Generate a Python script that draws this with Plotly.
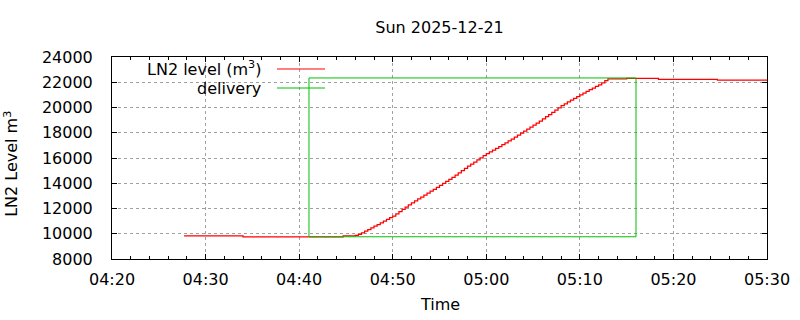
import plotly.graph_objects as go

DAY = "2025-12-21 "

# LN2 level (m^3) – staircase samples
level_time = [
    "04:27:42", "04:34:00", "04:44:42",
    "04:46:00", "04:46:20", "04:46:40", "04:47:00", "04:47:20", "04:47:40",
    "04:48:00", "04:48:20", "04:48:40", "04:49:00", "04:49:20", "04:49:40",
    "04:50:00", "04:50:20", "04:50:40", "04:51:00", "04:51:20", "04:51:40",
    "04:52:00", "04:52:20", "04:52:40", "04:53:00", "04:53:20", "04:53:40",
    "04:54:00", "04:54:20", "04:54:40", "04:55:00", "04:55:20", "04:55:40",
    "04:56:00", "04:56:20", "04:56:40", "04:57:00", "04:57:20", "04:57:40",
    "04:58:00", "04:58:20", "04:58:40", "04:59:00", "04:59:20", "04:59:40",
    "05:00:00", "05:00:20", "05:00:40", "05:01:00", "05:01:20", "05:01:40",
    "05:02:00", "05:02:20", "05:02:40", "05:03:00", "05:03:20", "05:03:40",
    "05:04:00", "05:04:20", "05:04:40", "05:05:00", "05:05:20", "05:05:40",
    "05:06:00", "05:06:20", "05:06:40", "05:07:00", "05:07:20", "05:07:40",
    "05:08:00", "05:08:20", "05:08:40", "05:09:00", "05:09:20", "05:09:40",
    "05:10:00", "05:10:20", "05:10:40", "05:11:00", "05:11:20", "05:11:40",
    "05:12:00", "05:12:20", "05:12:40", "05:13:00",
    "05:15:00", "05:18:24", "05:24:42", "05:30:00",
]
level_value = [
    9840, 9760, 9840,
    9880, 9950, 10060, 10200, 10330, 10470,
    10600, 10730, 10870, 11000, 11130, 11270,
    11400, 11580, 11750, 11930, 12100, 12280,
    12450, 12600, 12760, 12910, 13060, 13220,
    13370, 13520, 13680, 13830, 13990, 14140,
    14300, 14470, 14650, 14820, 15000, 15170,
    15350, 15520, 15680, 15850, 16020, 16180,
    16350, 16490, 16630, 16770, 16910, 17050,
    17190, 17350, 17500, 17660, 17810, 17970,
    18120, 18280, 18440, 18610, 18770, 18930,
    19090, 19270, 19440, 19620, 19800, 19970,
    20150, 20290, 20440, 20580, 20720, 20870,
    21010, 21140, 21270, 21410, 21540, 21670,
    21800, 21960, 22120, 22260,
    22310, 22230, 22160, 22160,
]

# delivery window
delivery_time = ["04:41:03", "04:41:03", "05:16:00", "05:16:00", "04:41:03"]
delivery_value = [9760, 22340, 22340, 9760, 9760]

title_text = "Sun 2025-12-21"
x_title = "Time"
y_title = "LN2 Level m<sup>3</sup>"
legend_names = ["LN2 level (m<sup>3</sup>)", "delivery"]
colors = ["#ff0000", "#00c000"]

FONT = "DejaVu Sans"
FS = 16

fig = go.Figure()
fig.add_trace(go.Scatter(
    x=[DAY + t for t in level_time], y=level_value, mode="lines",
    line=dict(color=colors[0], width=1.25, shape="hv"),
    name=legend_names[0], showlegend=False,
))
fig.add_trace(go.Scatter(
    x=[DAY + t for t in delivery_time], y=delivery_value, mode="lines",
    line=dict(color=colors[1], width=1.0),
    name=legend_names[1], showlegend=False,
))

# opaque key box (hides grid beneath the key, like gnuplot "key opaque")
fig.add_shape(type="rect", xref="paper", yref="paper",
              x0=0.019, x1=0.341, y0=0.805, y1=0.995,
              fillcolor="white", line=dict(width=0), layer="between")

# gnuplot-style key: text right-aligned, sample line to the right
key_rows = [0.9406, 0.8465]
for name, col, yy in zip(legend_names, colors, key_rows):
    fig.add_annotation(xref="paper", yref="paper", x=0.2305, y=yy,
                       text=name, showarrow=False, xanchor="right",
                       yanchor="middle", font=dict(family=FONT, size=FS, color="black"))
    fig.add_shape(type="line", xref="paper", yref="paper",
                  x0=0.2519, x1=0.3252, y0=yy, y1=yy,
                  line=dict(color=col, width=1.0))

# axis titles as annotations (fixed positions, no margin push)
fig.add_annotation(xref="paper", yref="paper", x=-0.1545, y=0.47,
                   text=y_title, textangle=-90, showarrow=False,
                   xanchor="center", yanchor="middle",
                   font=dict(family=FONT, size=FS, color="black"))
fig.add_annotation(xref="paper", yref="paper", x=0.5, y=-0.2277,
                   text=x_title, showarrow=False,
                   xanchor="center", yanchor="middle",
                   font=dict(family=FONT, size=FS, color="black"))

fig.update_layout(
    width=800, height=320,
    margin=dict(l=112, r=33, t=57, b=61),
    paper_bgcolor="white", plot_bgcolor="white",
    font=dict(family=FONT, size=FS, color="black"),
    title=dict(text=title_text, x=0.5494, xanchor="center", y=1 - 27 / 320,
               yanchor="middle", font=dict(family=FONT, size=FS)),
)

fig.update_xaxes(
    type="date",
    range=[DAY + "04:20", DAY + "05:30"],
    dtick=600000, tick0=DAY + "04:20", tickformat="%H:%M",
    ticks="inside", ticklen=5, tickcolor="black",
    showline=True, linecolor="black", linewidth=1, mirror="ticks",
    showgrid=True, gridcolor="#a0a0a0", griddash="3px,3px", gridwidth=1,
    minor=dict(dtick=120000, ticks="inside", ticklen=3, tickcolor="black", showgrid=False),
    zeroline=False, automargin=False,
    tickfont=dict(family=FONT, size=FS),
    ticklabelstandoff=6,
)
fig.update_yaxes(
    range=[8000, 24000], dtick=2000, tickformat="d",
    ticks="inside", ticklen=5, tickcolor="black",
    showline=True, linecolor="black", linewidth=1, mirror="ticks",
    showgrid=True, gridcolor="#a0a0a0", griddash="3px,3px", gridwidth=1,
    zeroline=False, automargin=False,
    tickfont=dict(family=FONT, size=FS),
    ticklabelstandoff=15,
)

fig.write_html("out.html")
